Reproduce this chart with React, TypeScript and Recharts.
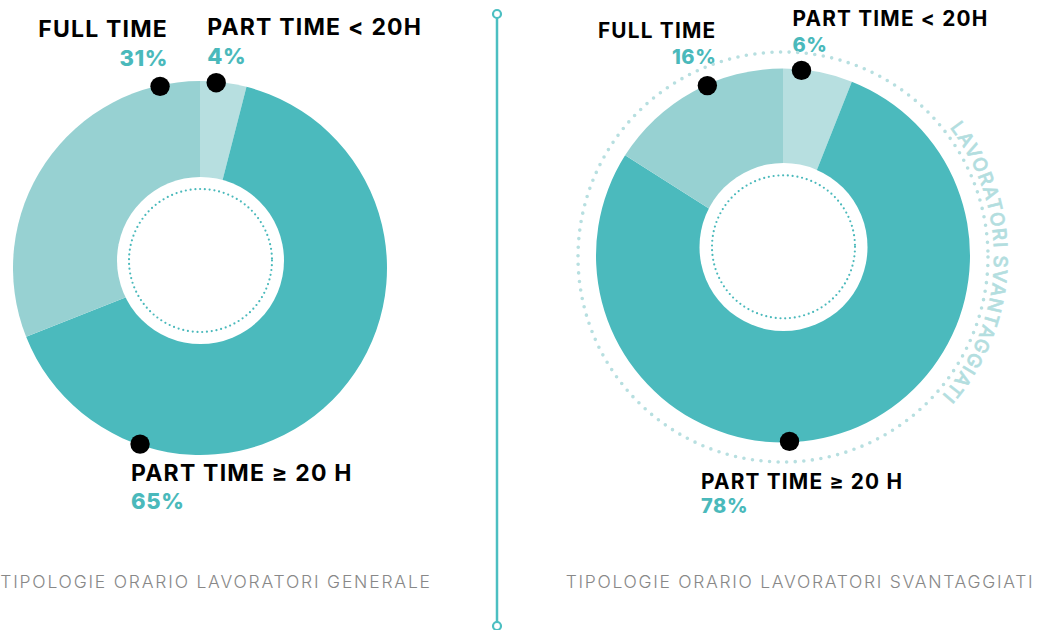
import { PieChart, Pie, Cell } from 'recharts';

const CATEGORIES = ['PART TIME < 20H', 'PART TIME ≥ 20 H', 'FULL TIME'];
const GENERAL_VALUES = [4, 65, 31];
const SVANTAGGIATI_VALUES = [6, 78, 16];
const TITLES = ['TIPOLOGIE ORARIO LAVORATORI GENERALE', 'TIPOLOGIE ORARIO LAVORATORI SVANTAGGIATI'];
const ARC_LABEL = 'LAVORATORI SVANTAGGIATI';

const COLORS = ['#b7dfe0', '#4bbabd', '#97d1d2'];
const TEAL = '#4ab9bb';
const FONT = 'Inter, "Open Sans", sans-serif';

const generalData = CATEGORIES.map((name, i) => ({ name, value: GENERAL_VALUES[i] }));
const svantaggiatiData = CATEGORIES.map((name, i) => ({ name, value: SVANTAGGIATI_VALUES[i] }));

// where the black dot sits (degrees clockwise from 12 o'clock) and how the text hangs off it
const LEFT_LAYOUT = [
  { angle: 5, anchor: 'start', lx: -9, ly: -48, py: -19 },
  { angle: 198.8, anchor: 'start', lx: -9, ly: 37, py: 65 },
  { angle: 347.6, anchor: 'end', lx: 8, ly: -49, py: -20 },
];
const RIGHT_LAYOUT = [
  { angle: 5.7, anchor: 'start', lx: -9, ly: -44, py: -18.5 },
  { angle: 178, anchor: 'start', lx: -88.5, ly: 48, py: 72 },
  { angle: 336, anchor: 'end', lx: 9, ly: -48, py: -22 },
];

const makeLabel = (layout: any[], fontSize: number, pctSize: number) => (props: any) => {
  const { cx, cy, outerRadius, index, name, value } = props;
  const l = layout[index];
  const rad = (l.angle * Math.PI) / 180;
  const r = outerRadius - 1;
  const x = cx + r * Math.sin(rad);
  const y = cy - r * Math.cos(rad);
  return (
    <g key={`lbl-${index}`}>
      <circle cx={x} cy={y} r={9.7} fill="#000" />
      <text x={x + l.lx} y={y + l.ly} textAnchor={l.anchor} fontFamily={FONT} fontWeight={700}
        fontSize={fontSize} letterSpacing={1.2} fill="#000">
        {name}
      </text>
      <text x={x + l.lx} y={y + l.py} textAnchor={l.anchor} fontFamily={FONT} fontWeight={800}
        fontSize={pctSize} letterSpacing={0.6} fill={TEAL}>
        {value}%
      </text>
    </g>
  );
};

const Overlay = () => (
  <svg width={1051} height={630} style={{ position: 'absolute', left: 0, top: 0, pointerEvents: 'none' }}>
    {/* holes */}
    <circle cx={200.5} cy={260.5} r={83.5} fill="#fff" />
    <circle cx={200.5} cy={260.5} r={71.5} fill="none" stroke={TEAL} strokeWidth={2.2}
      strokeDasharray="0 4.8" strokeLinecap="round" />
    <circle cx={783.5} cy={247} r={84} fill="#fff" />
    <circle cx={783.5} cy={246.8} r={71.5} fill="none" stroke={TEAL} strokeWidth={2.2}
      strokeDasharray="0 4.8" strokeLinecap="round" />

    {/* outer dotted ring + curved label */}
    <circle cx={783} cy={257} r={205} fill="none" stroke="#b7dfe0" strokeWidth={3.6}
      strokeDasharray="0 8.6" strokeLinecap="round" />
    <path id="arcPath" d="M 783,46 A 211,211 0 0 1 783,468" fill="none" />
    <text fontFamily={FONT} fontSize={19} fontWeight={500} fill="#b3dedf" stroke="#b3dedf"
      strokeWidth={0.6} letterSpacing={1.3}>
      <textPath href="#arcPath" startOffset="51%" textAnchor="middle">{ARC_LABEL}</textPath>
    </text>

    {/* divider */}
    <line x1={497} y1={18} x2={497} y2={622} stroke="#4cbfc2" strokeWidth={2.5} />
    <circle cx={497} cy={14} r={4} fill="#fff" stroke="#4cbfc2" strokeWidth={2.2} />
    <circle cx={497} cy={626} r={4} fill="#fff" stroke="#4cbfc2" strokeWidth={2.2} />

    {/* titles */}
    <text x={216} y={588} textAnchor="middle" fontFamily={FONT} fontWeight={300} fontSize={17.5}
      letterSpacing={1.8} fill="#888">{TITLES[0]}</text>
    <text x={800} y={588} textAnchor="middle" fontFamily={FONT} fontWeight={300} fontSize={17.5}
      letterSpacing={1.7} fill="#888">{TITLES[1]}</text>
  </svg>
);

export default function App() {
  return (
    <div style={{ position: 'absolute', left: 0, top: 0, width: 1051, height: 630, background: '#fff' }}>
      <PieChart width={1051} height={630} margin={{ top: 0, right: 0, bottom: 0, left: 0 }}>
        <Pie
          data={generalData}
          dataKey="value"
          nameKey="name"
          cx={200}
          cy={268}
          innerRadius={0}
          outerRadius={187}
          startAngle={90}
          endAngle={-270}
          stroke="none"
          isAnimationActive={false}
          labelLine={false}
          label={makeLabel(LEFT_LAYOUT, 23, 22)}
        >
          {generalData.map((_, i) => (
            <Cell key={`g-${i}`} fill={COLORS[i]} />
          ))}
        </Pie>
        <Pie
          data={svantaggiatiData}
          dataKey="value"
          nameKey="name"
          cx={783}
          cy={255.5}
          innerRadius={0}
          outerRadius={187}
          startAngle={90}
          endAngle={-270}
          stroke="none"
          isAnimationActive={false}
          labelLine={false}
          label={makeLabel(RIGHT_LAYOUT, 20.8, 20)}
        >
          {svantaggiatiData.map((_, i) => (
            <Cell key={`s-${i}`} fill={COLORS[i]} />
          ))}
        </Pie>
      </PieChart>
      <Overlay />
    </div>
  );
}
